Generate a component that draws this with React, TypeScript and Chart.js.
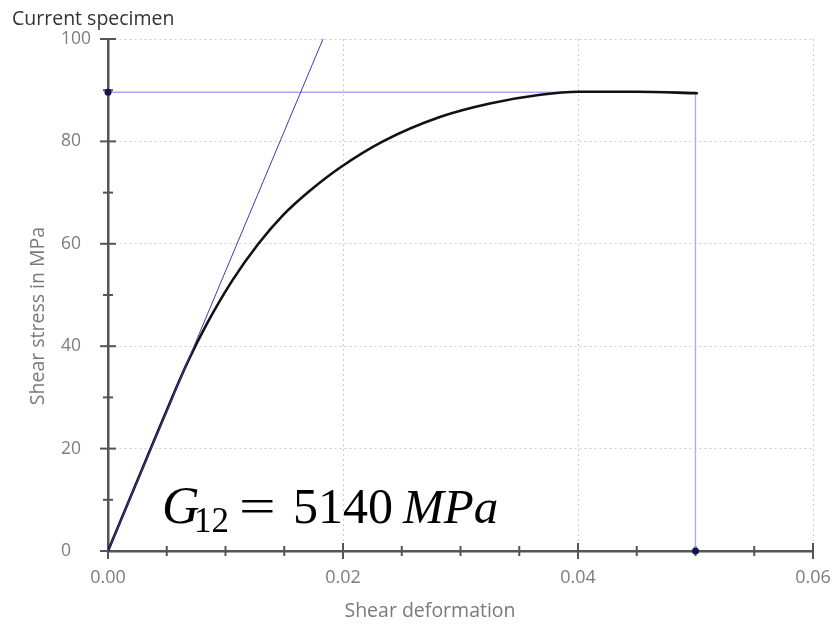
import React, { useEffect, useRef } from 'react';
import { Chart, registerables } from 'chart.js';

Chart.register(...registerables);

// Shear deformation (x) and shear stress in MPa (y) of the measured curve
const strainValues = [0, 0.003, 0.0055, 0.0068, 0.0084, 0.0106, 0.0128, 0.0149, 0.0171, 0.0197, 0.0234, 0.0283, 0.0325, 0.0368, 0.04, 0.045, 0.0502];
const stressValues = [0, 16.5, 30.2, 37, 44.3, 52.9, 60, 65.6, 70.2, 74.8, 80, 84.8, 87.4, 89.1, 89.7, 89.7, 89.4];

// Tangent line (shear modulus)
const tangentStrain = [0, 0.0183];
const tangentStress = [0, 100];

// Guide lines to max stress and max strain
const guideStrain = [0, 0.05, 0.05];
const guideStress = [89.6, 89.6, 0];

// Marker points on the axes
const markerStrain = [0, 0.05];
const markerStress = [89.6, 0];

// Axis ranges / ticks
const xMin = 0;
const xMax = 0.06;
const xMajorStep = 0.02;
const xMinorStep = 0.005;
const yMin = 0;
const yMax = 100;
const yMajorStep = 20;
const yMinorStep = 10;

const titleText = 'Current specimen';
const xTitle = 'Shear deformation';
const yTitle = 'Shear stress in MPa';
const modulusValue = '5140';

const toPoints = (xs: number[], ys: number[]) => xs.map((x, i) => ({ x, y: ys[i] }));

const FONT = '"Open Sans", "Noto Sans", sans-serif';

const tickMarksPlugin = {
  id: 'tickMarks',
  beforeDatasetsDraw(chart: any) {
    const { ctx, scales } = chart;
    const xs = scales.x;
    const ys = scales.y;
    const x0 = xs.getPixelForValue(xMin);
    const y0 = ys.getPixelForValue(yMin);
    ctx.save();
    ctx.strokeStyle = '#555555';
    ctx.lineWidth = 2;
    const nx = Math.round((xMax - xMin) / xMinorStep);
    const perMajorX = Math.round(xMajorStep / xMinorStep);
    for (let i = 0; i <= nx; i++) {
      const px = xs.getPixelForValue(xMin + i * xMinorStep);
      const L = i % perMajorX === 0 ? 8 : 5;
      ctx.beginPath();
      ctx.moveTo(px, y0 - L);
      ctx.lineTo(px, y0 + L);
      ctx.stroke();
    }
    const ny = Math.round((yMax - yMin) / yMinorStep);
    const perMajorY = Math.round(yMajorStep / yMinorStep);
    for (let i = 0; i <= ny; i++) {
      const py = ys.getPixelForValue(yMin + i * yMinorStep);
      const L = i % perMajorY === 0 ? 8 : 5;
      ctx.beginPath();
      ctx.moveTo(x0 - L, py);
      ctx.lineTo(x0 + L, py);
      ctx.stroke();
    }
    ctx.restore();
  },
};

const textPlugin = {
  id: 'texts',
  afterDraw(chart: any) {
    const { ctx } = chart;
    ctx.save();
    // Chart title
    ctx.fillStyle = '#333333';
    ctx.font = `19.5px ${FONT}`;
    ctx.textAlign = 'left';
    ctx.textBaseline = 'alphabetic';
    ctx.fillText(titleText, 12, 25);

    // Axis titles
    ctx.fillStyle = '#7a7a7a';
    ctx.font = `19.5px ${FONT}`;
    ctx.textAlign = 'center';
    ctx.textBaseline = 'middle';
    ctx.fillText(xTitle, 430, 611);
    ctx.save();
    ctx.translate(38, 316);
    ctx.rotate(-Math.PI / 2);
    ctx.fillText(yTitle, 0, 0);
    ctx.restore();

    // Formula G12 = 5140 MPa
    ctx.fillStyle = '#000000';
    ctx.textAlign = 'left';
    ctx.textBaseline = 'alphabetic';
    const serif = '"Liberation Serif", "DejaVu Serif", serif';
    const base = 523;
    ctx.font = `italic 52px ${serif}`;
    ctx.fillText('G', 162, base);
    ctx.font = `35px ${serif}`;
    ctx.fillText('12', 194, base + 9);
    ctx.font = `50px ${serif}`;
    ctx.save();
    ctx.translate(239, 0);
    ctx.scale(1.3, 1);
    ctx.fillText('=', 0, base);
    ctx.restore();
    ctx.fillText(modulusValue, 293, base);
    ctx.font = `italic 49px ${serif}`;
    ctx.fillText('MPa', 403, base);
    ctx.restore();
  },
};

export default function App() {
  const canvasRef = useRef<HTMLCanvasElement | null>(null);

  useEffect(() => {
    const canvas = canvasRef.current;
    if (!canvas) return;
    const chart = new Chart(canvas, {
      type: 'scatter',
      data: {
        datasets: [
          {
            label: 'markers',
            data: toPoints(markerStrain, markerStress),
            showLine: false,
            pointRadius: 3.5,
            pointBackgroundColor: '#14144f',
            pointBorderColor: '#14144f',
            pointBorderWidth: 0,
            clip: false as any,
            order: 0,
          },
          {
            label: 'tangent',
            data: toPoints(tangentStrain, tangentStress),
            showLine: true,
            borderColor: '#3b3bb5',
            borderWidth: 1,
            pointRadius: 0,
            order: 1,
          },
          {
            label: 'curve',
            data: toPoints(strainValues, stressValues),
            showLine: true,
            borderColor: '#111111',
            borderWidth: 2.6,
            pointRadius: 0,
            cubicInterpolationMode: 'monotone',
            order: 2,
          },
          {
            label: 'guides',
            data: toPoints(guideStrain, guideStress),
            showLine: true,
            borderColor: '#a9a9ee',
            borderWidth: 1.3,
            pointRadius: 0,
            order: 3,
          },
        ],
      },
      options: {
        responsive: false,
        animation: false,
        devicePixelRatio: 1,
        layout: { padding: { left: 61, top: 39, right: 23, bottom: 0 } },
        plugins: {
          legend: { display: false },
          tooltip: { enabled: false },
          title: { display: false },
        },
        scales: {
          x: {
            type: 'linear',
            position: 'bottom',
            min: xMin,
            max: xMax,
            afterFit: (s: any) => {
              s.height = 73;
              s.paddingLeft = 0;
              s.paddingRight = 0;
            },
            grid: { color: '#cdcdcd', lineWidth: 1, drawTicks: false },
            border: { display: true, color: '#555555', width: 2.5, dash: [2, 3] },
            ticks: {
              stepSize: xMajorStep,
              padding: 16,
              color: '#7d7d7d',
              font: { family: FONT, size: 18 },
              maxRotation: 0,
              autoSkip: false,
              callback: (v: any) => Number(v).toFixed(2),
            },
          },
          y: {
            type: 'linear',
            min: yMin,
            max: yMax,
            afterFit: (s: any) => {
              s.width = 47;
              s.paddingTop = 0;
              s.paddingBottom = 0;
            },
            grid: { color: '#cdcdcd', lineWidth: 1, drawTicks: false },
            border: { display: true, color: '#555555', width: 2.5, dash: [2, 3] },
            ticks: {
              stepSize: yMajorStep,
              padding: 0,
              crossAlign: 'far',
              color: '#7d7d7d',
              font: { family: FONT, size: 17.5 },
              autoSkip: false,
            },
          },
        },
      },
      plugins: [tickMarksPlugin, textPlugin],
    } as any);
    return () => chart.destroy();
  }, []);

  return (
    <div style={{ position: 'absolute', left: 0, top: 0, width: 836, height: 624, background: '#ffffff' }}>
      <canvas ref={canvasRef} width={836} height={624} style={{ display: 'block' }} />
    </div>
  );
}
